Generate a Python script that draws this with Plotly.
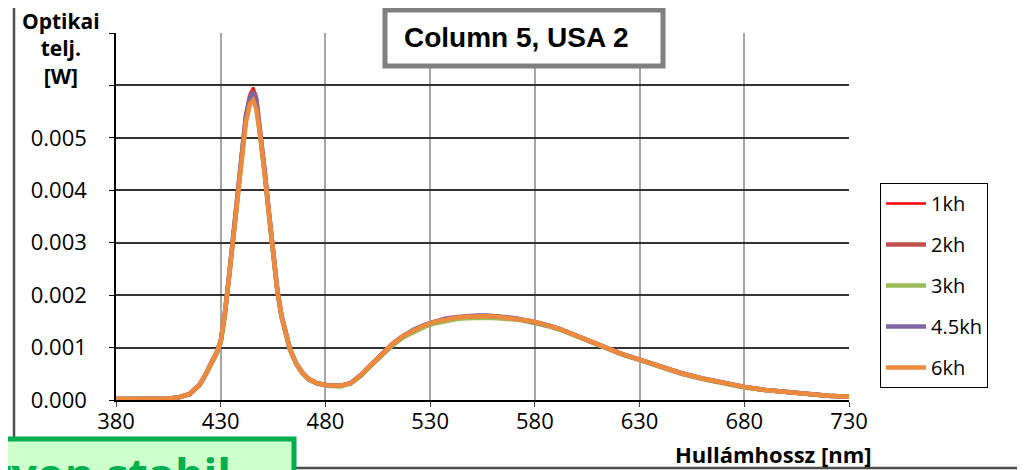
import plotly.graph_objects as go

# ---------------- data ----------------
wavelength = [380, 395, 405, 410, 415, 420, 423, 426, 428, 430, 432, 434, 436, 438, 440,
              442, 444, 445.5, 447, 449, 451, 453, 455, 457, 459, 461, 463, 466, 469, 472,
              476, 481, 487, 492, 497, 502, 507, 512, 517, 522, 527, 532, 537, 542, 547,
              552, 557, 562, 567, 572, 577, 582, 587, 592, 597, 602, 607, 612, 617, 622,
              630, 640, 650, 660, 670, 680, 690, 700, 710, 720, 730]

p_1kh = [0.00002, 0.00002, 0.00003, 0.00005, 0.00011, 0.00030, 0.00050, 0.00075, 0.00090, 0.00113,
         0.00166, 0.00238, 0.00315, 0.00392, 0.00475, 0.00545, 0.00585, 0.00596, 0.00580, 0.00515,
         0.00440, 0.00360, 0.00283, 0.00212, 0.00161, 0.00126, 0.00098, 0.00070, 0.00052, 0.00040,
         0.00032, 0.00028, 0.00027, 0.00032, 0.00048, 0.00068, 0.00089, 0.00107, 0.00122, 0.00134,
         0.00143, 0.00150, 0.00155, 0.00158, 0.00160, 0.00161, 0.00161, 0.00160, 0.00158, 0.00155,
         0.00151, 0.00147, 0.00142, 0.00135, 0.00127, 0.00119, 0.00110, 0.00102, 0.00094, 0.00087,
         0.00077, 0.00063, 0.00051, 0.00041, 0.00032, 0.00025, 0.00019, 0.00015, 0.00011, 0.00008,
         0.00006]
p_2kh = [0.00002, 0.00002, 0.00003, 0.00005, 0.00011, 0.00030, 0.00050, 0.00075, 0.00090, 0.00112,
         0.00165, 0.00237, 0.00313, 0.00390, 0.00472, 0.00542, 0.00580, 0.00590, 0.00575, 0.00512,
         0.00437, 0.00358, 0.00282, 0.00211, 0.00161, 0.00125, 0.00098, 0.00070, 0.00052, 0.00040,
         0.00032, 0.00028, 0.00027, 0.00032, 0.00048, 0.00068, 0.00089, 0.00107, 0.00122, 0.00133,
         0.00142, 0.00149, 0.00154, 0.00157, 0.00159, 0.00160, 0.00160, 0.00159, 0.00157, 0.00155,
         0.00151, 0.00147, 0.00142, 0.00135, 0.00127, 0.00119, 0.00110, 0.00102, 0.00094, 0.00087,
         0.00077, 0.00063, 0.00051, 0.00041, 0.00032, 0.00025, 0.00019, 0.00015, 0.00011, 0.00008,
         0.00006]
p_3kh = [0.00002, 0.00002, 0.00003, 0.00005, 0.00010, 0.00028, 0.00048, 0.00072, 0.00087, 0.00108,
         0.00160, 0.00230, 0.00305, 0.00382, 0.00462, 0.00530, 0.00570, 0.00578, 0.00562, 0.00503,
         0.00430, 0.00353, 0.00278, 0.00208, 0.00158, 0.00123, 0.00096, 0.00069, 0.00051, 0.00039,
         0.00031, 0.00027, 0.00026, 0.00031, 0.00046, 0.00066, 0.00086, 0.00104, 0.00119, 0.00130,
         0.00139, 0.00146, 0.00151, 0.00154, 0.00156, 0.00157, 0.00157, 0.00156, 0.00155, 0.00153,
         0.00149, 0.00145, 0.00140, 0.00134, 0.00126, 0.00118, 0.00109, 0.00101, 0.00093, 0.00086,
         0.00076, 0.00062, 0.00050, 0.00040, 0.00031, 0.00024, 0.00019, 0.00015, 0.00011, 0.00008,
         0.00006]
p_4_5kh = [0.00002, 0.00002, 0.00003, 0.00005, 0.00011, 0.00030, 0.00050, 0.00075, 0.00090, 0.00112,
           0.00166, 0.00237, 0.00313, 0.00390, 0.00470, 0.00540, 0.00576, 0.00586, 0.00570, 0.00510,
           0.00436, 0.00358, 0.00282, 0.00211, 0.00161, 0.00126, 0.00098, 0.00070, 0.00052, 0.00040,
           0.00032, 0.00028, 0.00027, 0.00032, 0.00048, 0.00068, 0.00089, 0.00107, 0.00122, 0.00134,
           0.00143, 0.00150, 0.00155, 0.00158, 0.00160, 0.00161, 0.00161, 0.00160, 0.00158, 0.00155,
           0.00151, 0.00147, 0.00142, 0.00135, 0.00127, 0.00119, 0.00110, 0.00102, 0.00094, 0.00087,
           0.00077, 0.00063, 0.00051, 0.00041, 0.00032, 0.00025, 0.00019, 0.00015, 0.00011, 0.00008,
           0.00006]
p_6kh = [0.00002, 0.00002, 0.00003, 0.00005, 0.00011, 0.00030, 0.00050, 0.00075, 0.00090, 0.00112,
         0.00165, 0.00235, 0.00310, 0.00385, 0.00465, 0.00530, 0.00565, 0.00572, 0.00555, 0.00500,
         0.00430, 0.00355, 0.00280, 0.00210, 0.00160, 0.00125, 0.00098, 0.00070, 0.00052, 0.00040,
         0.00032, 0.00028, 0.00027, 0.00032, 0.00048, 0.00068, 0.00089, 0.00107, 0.00122, 0.00133,
         0.00142, 0.00149, 0.00154, 0.00157, 0.00159, 0.00160, 0.00160, 0.00159, 0.00157, 0.00155,
         0.00151, 0.00147, 0.00142, 0.00135, 0.00127, 0.00119, 0.00110, 0.00102, 0.00094, 0.00087,
         0.00077, 0.00063, 0.00051, 0.00041, 0.00032, 0.00025, 0.00019, 0.00015, 0.00011, 0.00008,
         0.00006]

series_names = ["1kh", "2kh", "3kh", "4.5kh", "6kh"]
series_values = [p_1kh, p_2kh, p_3kh, p_4_5kh, p_6kh]

y_tickvals = [0.000, 0.001, 0.002, 0.003, 0.004, 0.005, 0.006, 0.007]
y_ticktext = ["0.000", "0.001", "0.002", "0.003", "0.004", "0.005", "", ""]
x_tickvals = [380, 430, 480, 530, 580, 630, 680, 730]

chart_title = "Column 5, USA 2"
y_title = "Optikai<br>telj.<br>[W]"
x_title = "Hullámhossz [nm]"
note_text = "Nagyon stabil"

# ---------------- styling ----------------
OFF = 8                      # page body margin of the written html
W, H = 1025 - OFF, 470 - OFF
ML, MR, MT, MB = 116 - OFF, 176, 33 - OFF, 70
PW, PH = W - ML - MR, H - MT - MB

def px(x):
    """screen pixel x -> paper coordinate"""
    return (x - OFF - ML) / PW

def py(y):
    """screen pixel y -> paper coordinate"""
    return (H - MB - (y - OFF)) / PH

colors = ["#FF0000", "#C0504D", "#9BBB59", "#8064A2", "#EE8A3E"]
widths = [2.5, 4.5, 4.5, 4.5, 4.5]
FONT = "Open Sans"

fig = go.Figure()
for name, vals, c, w in zip(series_names, series_values, colors, widths):
    fig.add_trace(go.Scatter(x=wavelength, y=vals, mode="lines", name=name,
                             legendgroup=name,
                             line=dict(color=c, width=w)))

fig.update_layout(
    width=W, height=H,
    margin=dict(l=ML, r=MR, t=MT, b=MB, autoexpand=False),
    paper_bgcolor="white", plot_bgcolor="white",
    font=dict(family=FONT, size=22, color="black"),
    hovermode=False,
    legend=dict(x=px(880), y=py(183), xanchor="left", yanchor="top",
                bordercolor="black", borderwidth=1, bgcolor="white",
                font=dict(family=FONT, size=20, color="black"),
                tracegroupgap=12, itemwidth=40),
    xaxis=dict(range=[380, 730], tickvals=x_tickvals, showgrid=True,
               gridcolor="#A6A6A6", gridwidth=1.5, showline=True, linecolor="black",
               linewidth=1.5, ticks="outside", ticklen=5, tickcolor="#404040",
               zeroline=False, tickfont=dict(size=22), ticklabelstandoff=-4),
    yaxis=dict(range=[0, 0.007], tickvals=y_tickvals, ticktext=y_ticktext,
               showgrid=True, gridcolor="#333333", gridwidth=1.7, showline=True,
               linecolor="black", linewidth=1.5, ticks="outside", ticklen=5,
               tickcolor="black", zeroline=False, tickfont=dict(size=22),
               ticklabelstandoff=18),
)

shapes = [
    # outer chart frame
    dict(type="rect", xref="paper", yref="paper", x0=px(14), x1=px(1021), y0=py(468), y1=py(4),
         line=dict(color="#4d4d4d", width=2.5), fillcolor="rgba(0,0,0,0)", layer="above"),
    # title box
    dict(type="rect", xref="paper", yref="paper", x0=px(385), x1=px(663), y0=py(66), y1=py(10),
         line=dict(color="#808080", width=5), fillcolor="white", layer="above"),
    # green note box
    dict(type="rect", xref="paper", yref="paper", x0=px(-20), x1=px(294), y0=py(500), y1=py(439),
         line=dict(color="#00B050", width=5), fillcolor="#CCFFCC", layer="above"),
]
fig.update_layout(shapes=shapes)

annotations = [
    dict(text="<b>" + chart_title + "</b>", xref="paper", yref="paper", x=px(516), y=py(38),
         xanchor="center", yanchor="middle", showarrow=False,
         font=dict(family="Liberation Sans", size=28, color="black")),
    dict(text="<b>" + y_title + "</b>", xref="paper", yref="paper", x=px(61), y=py(48),
         xanchor="center", yanchor="middle", showarrow=False, align="center",
         font=dict(family=FONT, size=21, color="black")),
    dict(text="<b>" + x_title + "</b>", xref="paper", yref="paper", x=px(773), y=py(454),
         xanchor="center", yanchor="middle", showarrow=False,
         font=dict(family=FONT, size=22, color="black")),
    dict(text="<b>" + note_text + "</b>", xref="paper", yref="paper", x=px(233), y=py(441),
         xanchor="right", yanchor="top", showarrow=False,
         font=dict(family=FONT, size=45, color="#00B050")),
]
fig.update_layout(annotations=annotations)

fig.write_html("out.html")
